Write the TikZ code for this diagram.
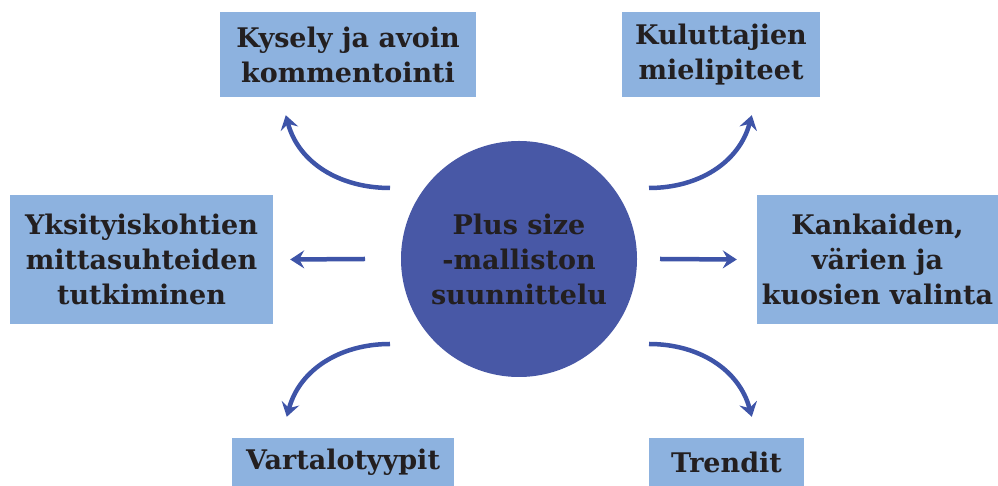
\documentclass[tikz,border=0pt]{standalone}
\usepackage{fontspec}
\setmainfont{DejaVu Serif}
\usetikzlibrary{arrows.meta}
\definecolor{hubblue}{HTML}{4858A6}
\definecolor{boxblue}{HTML}{8DB2DF}
\definecolor{arrowblue}{HTML}{3E54A8}
\definecolor{ink}{HTML}{231F20}
\begin{document}
\begin{tikzpicture}[x=1pt,y=1pt,
  txt/.style={align=center,text=ink,font=\fontsize{27}{35}\selectfont\bfseries},
  box/.style={txt,fill=boxblue,inner sep=0pt},
  flow/.style={draw=arrowblue,line width=4.5pt,-{Stealth[length=14pt,width=18pt,inset=5pt]}}]
\useasboundingbox (0,0) rectangle (998,486);
\node[txt,circle,fill=hubblue,minimum size=236pt,inner sep=0pt] (hub) at (519,227) {Plus size\\-malliston\\suunnittelu};
\node[box,minimum width=256pt,minimum height=85pt] (kysely) at (348,431.5) {Kysely ja avoin\\kommentointi};
\node[box,minimum width=198pt,minimum height=85pt] (kuluttajat) at (721,431.5) {Kuluttajien\\mielipiteet};
\node[box,minimum width=263pt,minimum height=129pt] (mitat) at (141.5,226.5) {Yksityiskohtien\\mittasuhteiden\\tutkiminen};
\node[box,minimum width=241pt,minimum height=129pt] (kankaat) at (877.5,226.5) {Kankaiden,\\värien ja\\kuosien valinta};
\node[box,minimum width=222pt,minimum height=48pt] (vartalo) at (343,24) {Vartalotyypit};
\node[box,minimum width=155pt,minimum height=48pt] (trendit) at (726.5,24) {Trendit};
\draw[flow] ([shift={(-129,71)}]hub.center) to[out=180,in=-75] ([shift={(66,-18)}]kysely.south west);
\draw[flow] ([shift={(130,71)}]hub.center) to[out=0,in=-105] ([shift={(130,-18)}]kuluttajat.south west);
\draw[flow] ([xshift=-154]hub.center) -- ([xshift=17]mitat.east);
\draw[flow] ([xshift=141]hub.center) -- ([xshift=-20]kankaat.west);
\draw[flow] ([shift={(-129,-85)}]hub.center) to[out=180,in=75] ([shift={(55,21)}]vartalo.north west);
\draw[flow] ([shift={(130,-85)}]hub.center) to[out=0,in=105] ([shift={(103,21)}]trendit.north west);
\end{tikzpicture}
\end{document}
